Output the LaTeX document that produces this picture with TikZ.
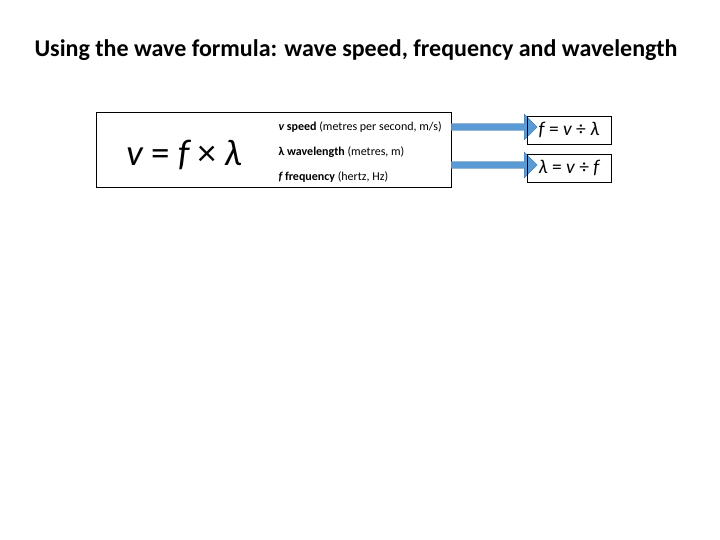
\documentclass[tikz,border=0pt]{standalone}
\usepackage{fontspec}
\setmainfont{Carlito}
\usetikzlibrary{shapes.arrows}
\definecolor{arrowblue}{HTML}{5B9BD5}
\definecolor{arrowedge}{HTML}{41719C}
\begin{document}
\begin{tikzpicture}[x=1pt,y=-1pt,
  qty/.style={anchor=west,font=\fontsize{12}{14}\selectfont},
  resultbox/.style={draw,thin,minimum width=84pt,minimum height=28pt,font=\fontsize{19.5}{22}\selectfont},
  blockarrow/.style={single arrow,draw=arrowedge,fill=arrowblue,minimum height=87pt,
    minimum width=26pt,single arrow head extend=6pt,inner sep=2pt,anchor=tail}]
  \useasboundingbox (0,0) rectangle (720,540);
  % Title
  \node[font=\bfseries\fontsize{24}{28}\selectfont] (title) at (356,50)
    {Using the wave formula: wave speed, frequency and wavelength};
  % Main box
  \draw[thin] (96,112) rectangle (451,187);
  \node[font=\fontsize{37}{42}\selectfont] (formula) at (184,155) {\itshape v\upshape{} = \itshape f\upshape{} × \itshape λ};
  \node[qty] (speed) at (275,127) {\textbf{\itshape v\upshape{} speed} (metres per second, m/s)};
  \node[qty] (wave) at (275,152) {\textbf{λ wavelength} (metres, m)};
  \node[qty] (freq) at (275,177) {\textbf{\itshape f\upshape{} frequency} (hertz, Hz)};
  % Arrows
  \node[blockarrow,minimum height=86pt] (arrA) at (451,127) {};
  \node[blockarrow,minimum height=86pt] (arrB) at (451,165) {};
  % Results
  \node[resultbox] (fres) at (569,130) {\itshape f\upshape{} = \itshape v\upshape{} ÷ \itshape λ};
  \node[resultbox] (lres) at (569,168) {\itshape λ\upshape{} = \itshape v\upshape{} ÷ \itshape f};
\end{tikzpicture}
\end{document}
